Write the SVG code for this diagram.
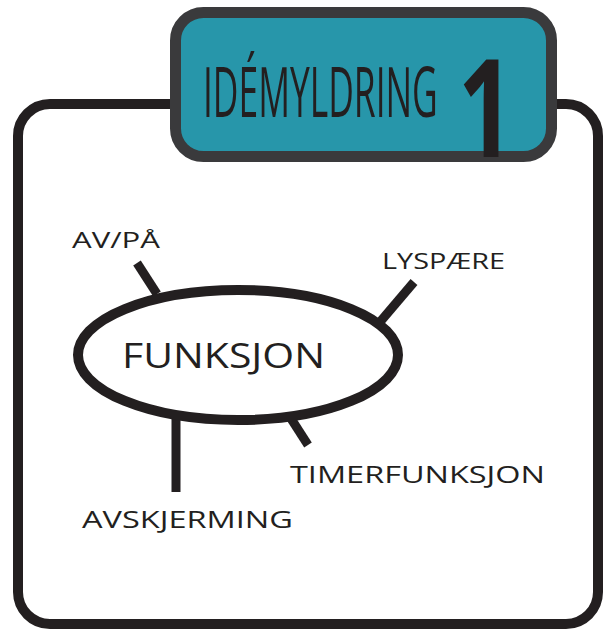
<svg xmlns="http://www.w3.org/2000/svg" width="605" height="631" viewBox="0 0 605 631">
  <style>
    .lbl { font-family: "Open Sans", "Liberation Sans", "DejaVu Sans", sans-serif; fill: #231f20; }
    .spoke { stroke: #231f20; stroke-width: 9; fill: none; }
  </style>
  <rect width="605" height="631" fill="#ffffff"/>

  <!-- outer frame -->
  <g id="frame">
    <rect x="18" y="104" width="580" height="520" rx="32" ry="32" fill="#ffffff" stroke="#231f20" stroke-width="10"/>
  </g>

  <!-- title plate -->
  <g id="title">
    <rect x="175.5" y="12.5" width="376" height="144" rx="28" ry="28" fill="#2796aa" stroke="#3a3a3c" stroke-width="11"/>
    <text class="lbl" transform="translate(203 117) scale(0.505 1)" x="0" y="0" font-size="70" textLength="465" lengthAdjust="spacingAndGlyphs">IDÉMYLDRING</text>
    <text class="lbl" transform="translate(486 157) scale(0.72 1)" x="0" y="0" font-size="136" font-weight="bold" text-anchor="middle">1</text>
  </g>

  <!-- connectors -->
  <g id="connectors">
    <line class="spoke" x1="137" y1="263" x2="157" y2="294"/>
    <line class="spoke" x1="414" y1="282" x2="380" y2="322"/>
    <line class="spoke" x1="176" y1="418" x2="176" y2="492"/>
    <line class="spoke" x1="290" y1="417" x2="308" y2="445"/>
  </g>

  <!-- central node -->
  <g id="funksjon">
    <ellipse cx="238" cy="355" rx="160" ry="65" fill="#ffffff" stroke="#231f20" stroke-width="10"/>
    <text class="lbl" x="122" y="368" font-size="35" textLength="203" lengthAdjust="spacingAndGlyphs">FUNKSJON</text>
  </g>

  <g id="avpa">
    <text class="lbl" x="72" y="248" font-size="22" textLength="88" lengthAdjust="spacingAndGlyphs">AV/PÅ</text>
  </g>
  <g id="lyspaere">
    <text class="lbl" x="382" y="269" font-size="22" textLength="123" lengthAdjust="spacingAndGlyphs">LYSPÆRE</text>
  </g>
  <g id="timerfunksjon">
    <text class="lbl" x="290" y="483" font-size="23" textLength="255" lengthAdjust="spacingAndGlyphs">TIMERFUNKSJON</text>
  </g>
  <g id="avskjerming">
    <text class="lbl" x="82" y="528" font-size="23" textLength="211" lengthAdjust="spacingAndGlyphs">AVSKJERMING</text>
  </g>
</svg>
